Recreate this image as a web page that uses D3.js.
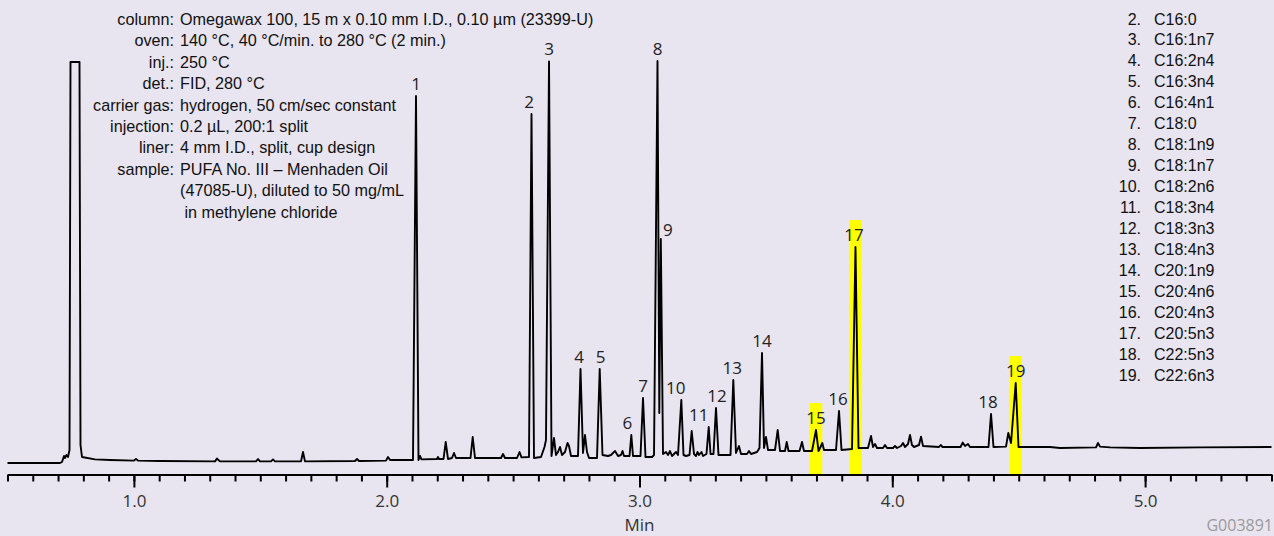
<!DOCTYPE html>
<html>
<head>
<meta charset="utf-8">
<script src="https://cdn.jsdelivr.net/npm/d3@7"></script>
<style>
body{margin:0;background:#e8e4f0;}
svg{display:block;}
</style>
</head>
<body>
<div id="plot"></div>
<script>
//chromatogram trace, retention time (min) and detector signal (arbitrary units)
var traceTime = [
	0.5000, 0.7077, 0.7156, 0.7235, 0.7275, 0.7334, 0.7393, 0.7453, 0.7492, 0.7848,
	0.7888, 0.7947, 0.8461, 0.9055, 1.0004, 1.0083, 1.0162, 1.1032, 1.3208, 1.3287,
	1.3406, 1.4830, 1.4909, 1.4988, 1.5423, 1.5502, 1.5582, 1.6610, 1.6689, 1.6768,
	1.8746, 1.8826, 1.8905, 1.9972, 2.0052, 2.0131, 2.1040, 2.1159, 2.1258, 2.1317,
	2.1377, 2.1990, 2.2029, 2.2069, 2.2247, 2.2334, 2.2425, 2.2583, 2.2662, 2.2741,
	2.3315, 2.3402, 2.3493, 2.4522, 2.4601, 2.4680, 2.5155, 2.5253, 2.5332, 2.5629,
	2.5728, 2.5827, 2.6104, 2.6242, 2.6301, 2.6421, 2.6519, 2.6618, 2.6697, 2.6776,
	2.6855, 2.6934, 2.7053, 2.7152, 2.7211, 2.7290, 2.7567, 2.7666, 2.7765, 2.7844,
	2.7923, 2.8003, 2.8319, 2.8426, 2.8536, 2.8754, 2.8873, 2.9032, 2.9150, 2.9269,
	2.9328, 2.9387, 2.9605, 2.9676, 2.9743, 3.0040, 3.0139, 3.0237, 3.0495, 3.0574,
	3.0712, 3.0783, 3.0843, 3.0930, 3.1049, 3.1128, 3.1207, 3.1286, 3.1444, 3.1523,
	3.1654, 3.1741, 3.1840, 3.1978, 3.2065, 3.2156, 3.2235, 3.2294, 3.2354, 3.2452,
	3.2512, 3.2650, 3.2738, 3.2809, 3.2927, 3.3026, 3.3125, 3.3600, 3.3711, 3.3817,
	3.3935, 3.4015, 3.4252, 3.4332, 3.4411, 3.4648, 3.4747, 3.4846, 3.4925, 3.5004,
	3.5083, 3.5360, 3.5467, 3.5558, 3.5756, 3.5823, 3.5894, 3.6329, 3.6428, 3.6507,
	3.6824, 3.6982, 3.7081, 3.7160, 3.7231, 3.7298, 3.7773, 3.7892, 3.7991, 3.8406,
	3.8544, 3.8663, 3.9039, 3.9158, 3.9237, 3.9316, 3.9395, 3.9633, 3.9712, 3.9791,
	4.0028, 4.0107, 4.0186, 4.0345, 4.0424, 4.0503, 4.0621, 4.0700, 4.0779, 4.0859,
	4.1056, 4.1136, 4.1215, 4.1848, 4.1915, 4.1986, 4.2698, 4.2785, 4.2876, 4.2995,
	4.3074, 4.3806, 4.3905, 4.4003, 4.4498, 4.4589, 4.4696, 4.4882, 4.4992, 4.6238,
	4.6634, 4.8058, 4.8137, 4.8216, 4.8612, 4.9798, 5.2172, 5.5000
];
var traceSignal = [
	0, 0, 0.25, 1.75, 1.25, 2.0, 1.5, 3.25, 100.25, 100.25,
	4.5, 1.5, 0.9, 0.75, 0.6, 1.0, 0.6, 0.5, 0.4, 1.1,
	0.4, 0.4, 1.0, 0.4, 0.4, 0.9, 0.4, 0.4, 2.75, 0.4,
	0.5, 1.0, 0.5, 0.6, 1.5, 0.75, 0.75, 91.75, 0.75, 1.75,
	0.9, 1.0, 1.5, 1.0, 1.0, 5.25, 1.0, 1.25, 2.5, 1.25,
	1.25, 6.5, 1.25, 1.25, 2.25, 1.25, 1.25, 2.75, 1.4, 1.5,
	87.25, 1.25, 1.5, 4.0, 5.75, 100.4, 1.75, 6.25, 2.0, 2.75,
	4.0, 2.0, 2.75, 5.0, 4.25, 1.75, 1.75, 23.5, 2.5, 7.0,
	2.75, 1.25, 1.25, 23.5, 2.0, 1.75, 2.0, 3.0, 1.75, 2.0,
	3.0, 1.75, 1.75, 7.0, 1.75, 1.75, 16.25, 1.5, 1.5, 2.0,
	100.5, 12.5, 56.0, 2.25, 2.75, 2.0, 3.0, 1.75, 2.75, 2.0,
	15.75, 2.0, 1.75, 2.0, 8.0, 2.25, 1.75, 2.75, 2.0, 2.75,
	1.75, 2.25, 9.0, 2.25, 2.25, 13.75, 2.0, 2.0, 20.75, 2.5,
	4.25, 2.25, 2.25, 3.0, 2.25, 2.75, 3.75, 27.5, 3.75, 6.5,
	3.25, 3.25, 8.25, 3.0, 3.0, 5.25, 3.0, 3.0, 5.25, 3.0,
	3.0, 8.25, 3.0, 4.0, 5.0, 3.25, 3.25, 13.0, 3.25, 3.5,
	54.0, 3.75, 3.75, 6.75, 4.0, 4.75, 3.75, 3.75, 4.5, 3.75,
	3.75, 4.25, 3.75, 4.25, 5.0, 4.0, 4.75, 7.0, 4.5, 4.0,
	4.5, 6.6, 4.25, 4.0, 4.5, 4.0, 4.0, 5.1, 4.25, 4.75,
	4.0, 4.0, 12.25, 4.0, 4.1, 7.5, 5.0, 20.0, 4.0, 4.0,
	3.75, 3.9, 5.0, 4.1, 3.9, 3.75, 3.9, 4.0
];

//identified peaks
var peakNo = [1,2,3,4,5,6,7,8,9,10,11,12,13,14,15,16,17,18,19];
var peakTime = [2.1159, 2.5728, 2.6421, 2.7666, 2.8426, 2.9676, 3.0139, 3.0712, 3.0843, 3.1654,
	3.2065, 3.3026, 3.3711, 3.4846, 3.6982, 3.7892, 3.8544, 4.3905, 4.4882];
var peakHeight = [91.75, 87.25, 100.4, 23.5, 23.5, 7.0, 16.25, 100.5, 56.0, 15.75,
	8.0, 13.75, 20.75, 27.5, 8.25, 13.0, 54.0, 12.25, 20.0];
var highlighted = [15, 17, 19];

//peak list (number 1 falls above the picture)
var listNo = [2,3,4,5,6,7,8,9,10,11,12,13,14,15,16,17,18,19];
var listName = ['C16:0','C16:1n7','C16:2n4','C16:3n4','C16:4n1','C18:0','C18:1n9','C18:1n7','C18:2n6',
	'C18:3n4','C18:3n3','C18:4n3','C20:1n9','C20:4n6','C20:4n3','C20:5n3','C22:5n3','C22:6n3'];

//conditions
var condLabels = ['column:','oven:','inj.:','det.:','carrier gas:','injection:','liner:','sample:','',''];
var condValues = ['Omegawax 100, 15 m x 0.10 mm I.D., 0.10 \u00b5m (23399-U)',
	'140 \u00b0C, 40 \u00b0C/min. to 280 \u00b0C (2 min.)',
	'250 \u00b0C',
	'FID, 280 \u00b0C',
	'hydrogen, 50 cm/sec constant',
	'0.2 \u00b5L, 200:1 split',
	'4 mm I.D., split, cup design',
	'PUFA No. III \u2013 Menhaden Oil',
	'(47085-U), diluted to 50 mg/mL',
	' in methylene chloride'];

var majorTicks = [1.0, 2.0, 3.0, 4.0, 5.0];

//Set up the drawing environment here
var W = 1274, H = 536;
var axisY = 474.5;

var svg = d3.select('#plot')
	.append('svg')
	.attr('width', W)
	.attr('height', H);

svg.append('rect')
	.attr('width', W)
	.attr('height', H)
	.style('fill', '#e8e4f0');

var x = d3.scaleLinear().domain([0.5, 5.5]).range([7.5, 1271.5]);
var y = d3.scaleLinear().domain([0, 100]).range([463, 63]);

var peaks = peakNo.map(function(n, i){
	return {no: n, t: peakTime[i], h: peakHeight[i]};
});

//yellow bands behind peaks 15, 17, 19
svg.selectAll('rect.band')
	.data(peaks.filter(function(p){ return highlighted.indexOf(p.no) > -1; }))
	.enter()
	.append('rect')
	.attr('class', 'band')
	.attr('x', function(p){ return x(p.t - 0.0247); })
	.attr('width', function(p){ return x(p.t + 0.0247) - x(p.t - 0.0247); })
	.attr('y', function(p){ return y(p.h) - 27; })
	.attr('height', function(p){ return axisY - (y(p.h) - 27); })
	.style('fill', '#ffff00');

//axis: minor ticks every 0.1 min, labelled majors
var minorAxis = d3.axisBottom(x)
	.tickValues(d3.range(5, 56).map(function(i){ return i / 10; }))
	.tickSize(7)
	.tickSizeOuter(0)
	.tickFormat('');
var majorAxis = d3.axisBottom(x)
	.tickValues(majorTicks)
	.tickSize(13)
	.tickSizeOuter(0)
	.tickPadding(7)
	.tickFormat(d3.format('.1f'));

var gMinor = svg.append('g')
	.attr('transform', 'translate(0,' + axisY + ')')
	.call(minorAxis);
var gMajor = svg.append('g')
	.attr('transform', 'translate(0,' + axisY + ')')
	.call(majorAxis);

[gMinor, gMajor].forEach(function(g){
	g.selectAll('path, line').style('stroke', '#000').style('stroke-width', 2);
	g.selectAll('text')
		.style('font-family', '"Open Sans", "Noto Sans", sans-serif')
		.style('font-size', '17px')
		.style('fill', '#333');
});

svg.append('text')
	.attr('x', x(3.0))
	.attr('y', 531)
	.attr('text-anchor', 'middle')
	.style('font-family', '"Open Sans", "Noto Sans", sans-serif')
	.style('font-size', '17px')
	.style('fill', '#333')
	.text('Min');

svg.append('text')
	.attr('x', 1273)
	.attr('y', 531)
	.attr('text-anchor', 'end')
	.style('font-family', '"Open Sans", "Noto Sans", sans-serif')
	.style('font-size', '16px')
	.style('fill', '#9a9a9a')
	.text('G003891');

//the trace
var line = d3.line()
	.x(function(d){ return x(d[0]); })
	.y(function(d){ return y(d[1]); });

svg.append('path')
	.datum(d3.zip(traceTime, traceSignal))
	.attr('d', line)
	.style('fill', 'none')
	.style('stroke', '#000')
	.style('stroke-width', 1.9)
	.style('stroke-linejoin', 'round');

//peak numbers
var labelShift = {2:-2.5, 4:-1.5, 5:1, 6:-4, 9:7, 10:-5.5, 11:7, 12:1, 13:-1, 16:-1, 17:-1.5, 18:-3};
var labelLift = {9:3, 11:-4};

svg.selectAll('text.peak')
	.data(peaks)
	.enter()
	.append('text')
	.attr('class', 'peak')
	.attr('x', function(p){ return x(p.t) + (labelShift[p.no] || 0); })
	.attr('y', function(p){ return y(p.h) - 6 + (labelLift[p.no] || 0); })
	.attr('text-anchor', 'middle')
	.style('font-family', '"Open Sans", "Noto Sans", sans-serif')
	.style('font-size', '17px')
	.style('fill', '#222')
	.text(function(p){ return p.no; });

//conditions block
var cond = svg.append('g')
	.style('font-family', '"Liberation Sans", Arial, sans-serif')
	.style('font-size', '16.2px')
	.style('fill', '#111');

condLabels.forEach(function(lab, i){
	var yy = 25 + i * 21.4;
	cond.append('text')
		.attr('x', 174)
		.attr('y', yy)
		.attr('text-anchor', 'end')
		.text(lab);
	cond.append('text')
		.attr('x', 180)
		.attr('y', yy)
		.style('white-space', 'pre')
		.text(condValues[i]);
});

//peak identification list
var list = svg.append('g')
	.style('font-family', '"Liberation Sans", Arial, sans-serif')
	.style('font-size', '16px')
	.style('fill', '#111');

listNo.forEach(function(n, i){
	var yy = 24.5 + i * 20.95;
	list.append('text')
		.attr('x', 1141)
		.attr('y', yy)
		.attr('text-anchor', 'end')
		.text(n + '.');
	list.append('text')
		.attr('x', 1154)
		.attr('y', yy)
		.text(listName[i]);
});
</script>
</body>
</html>
